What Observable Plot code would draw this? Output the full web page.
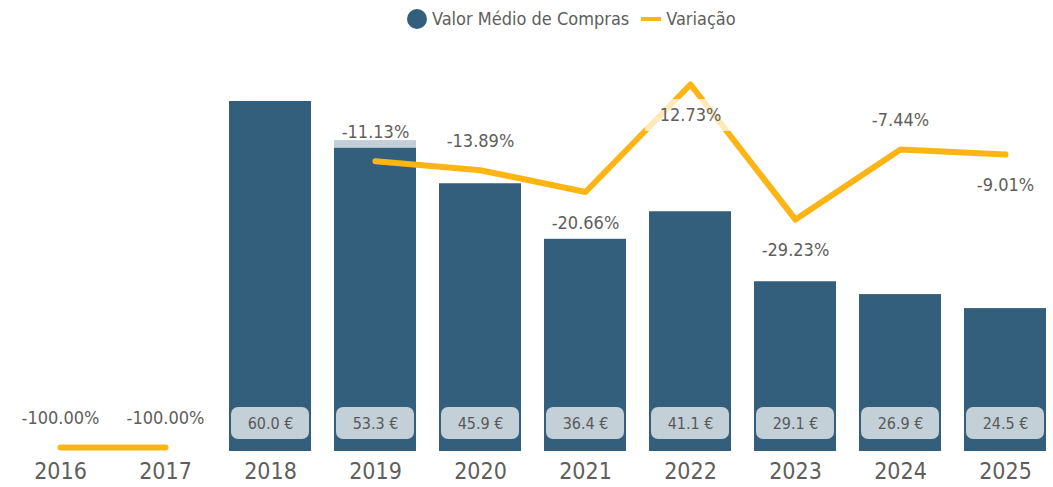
<!DOCTYPE html>
<html>
<head>
<meta charset="utf-8">
<script src="https://cdn.jsdelivr.net/npm/d3@7"></script>
<script src="https://cdn.jsdelivr.net/npm/@observablehq/plot@0.6"></script>
<style>
  html, body { margin: 0; padding: 0; background: #fff; }
  #chart { position: relative; width: 1053px; height: 487px; overflow: hidden; }
  #legend {
    position: absolute; left: 407px; top: 8px; display: flex; align-items: center;
    font-family: "Liberation Sans Narrow", "DejaVu Sans Condensed", sans-serif;
    font-size: 18px; color: #605e5c; white-space: nowrap;
  }
  #legend .dot { width: 20px; height: 20px; border-radius: 50%; background: #335f7c; margin-right: 5px; }
  #legend .swatch { width: 20px; height: 4px; background: #fdb515; margin: 0 5px 0 12px; }
  .layer { position: absolute; left: 0; top: 40px; }
  .layer.top { pointer-events: none; }
</style>
</head>
<body>
<div id="chart">
  <div id="legend"><span class="dot"></span><span>Valor Médio de Compras</span><span class="swatch"></span><span>Variação</span></div>
</div>
<script>
// Average purchase value per year and its year-on-year change
const years = ["2016", "2017", "2018", "2019", "2020", "2021", "2022", "2023", "2024", "2025"];
const valorMedio = [null, null, 60.0, 53.3, 45.9, 36.4, 41.1, 29.1, 26.9, 24.5];
const variacao = [-100.00, -100.00, null, -11.13, -13.89, -20.66, 12.73, -29.23, -7.44, -9.01];

// Years whose change label sits under the line rather than above it
const labelBelow = new Set(["2021", "2022", "2023", "2025"]);

const FONT = "'Liberation Sans Narrow', 'DejaVu Sans Condensed', sans-serif";
const BAR = "#335f7c";
const LINE = "#fdb515";
const TEXT = "#605e5c";
const W = 1053, H = 447;

const rows = years.map((year, i) => ({year, valor: valorMedio[i], variacao: variacao[i]}));
const bars = rows.filter(d => d.valor != null);
const changes = rows.filter(d => d.variacao != null);

const xScale = {domain: years, paddingInner: 0.22, paddingOuter: 0.05};
const common = {width: W, height: H, marginLeft: 13, marginRight: 2, marginTop: 0, marginBottom: 36,
  style: {fontFamily: FONT, color: TEXT, background: "transparent"}};

// Layer 1: bars, value badges and the year axis
const barPlot = Plot.plot({
  ...common,
  x: {...xScale, axis: null},
  y: {domain: [0, 60], range: [411, 61], axis: null},
  marks: [
    Plot.barY(bars, {x: "year", y: "valor", fill: BAR}),
    Plot.barY(bars, {x: "year", y1: 0, y2: 0, fill: "#c3d0d8", rx: 7,
      insetLeft: 2, insetRight: 2, insetTop: -44, insetBottom: 12}),
    Plot.text(bars, {x: "year", frameAnchor: "bottom", dy: -28, lineAnchor: "middle",
      text: d => d.valor.toFixed(1) + " €", fill: "#595959", fontSize: 16}),
    Plot.axisX({domain: years, label: null, tickSize: 0, tickPadding: 11, fontSize: 23, color: TEXT, fill: TEXT})
  ]
});
barPlot.classList.add("layer");

// Layer 2: change line with its labels
const fmtPct = d => d.variacao.toFixed(2) + "%";
const above = changes.filter(d => !labelBelow.has(d.year));
const below = changes.filter(d => labelBelow.has(d.year));
const linePlot = Plot.plot({
  ...common,
  x: {...xScale, axis: null},
  y: {domain: d3.extent(variacao), range: [407, 44], axis: null},
  marks: [
    Plot.line(rows, {x: "year", y: "variacao", stroke: LINE, strokeWidth: 6,
      strokeLinecap: "round", strokeLinejoin: "round"}),
    Plot.barY(above, {x: "year", y1: "variacao", y2: "variacao", fill: "white", fillOpacity: 0.7,
      insetLeft: -4, insetRight: -4, insetTop: -45, insetBottom: 13}),
    Plot.barY(below, {x: "year", y1: "variacao", y2: "variacao", fill: "white", fillOpacity: 0.7,
      insetLeft: -4, insetRight: -4, insetTop: 15, insetBottom: -47}),
    Plot.text(above, {x: "year", y: "variacao", dy: -29, lineAnchor: "middle",
      text: fmtPct, fill: TEXT, fontSize: 18}),
    Plot.text(below, {x: "year", y: "variacao", dy: 31, lineAnchor: "middle",
      text: fmtPct, fill: TEXT, fontSize: 18})
  ]
});
linePlot.classList.add("layer", "top");

const chart = document.getElementById("chart");
chart.appendChild(barPlot);
chart.appendChild(linePlot);
</script>
</body>
</html>
